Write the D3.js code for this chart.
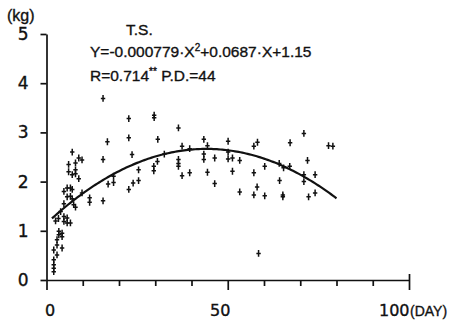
<!DOCTYPE html>
<html>
<head>
<meta charset="utf-8">
<script src="https://cdn.jsdelivr.net/npm/d3@7"></script>
<style>
  body { margin: 0; background: #fff; }
  svg text { font-family: "Liberation Sans", Arial, sans-serif; fill: #111; stroke: #111; stroke-width: 0.35; }
  .axis path, .axis line { stroke: #111; stroke-width: 1.7; }
</style>
</head>
<body>
<div id="chart"></div>
<script>
// observed weights (day, kg)
const days = [2, 2, 2, 2, 2, 2.9, 2.9, 2.9, 4.3, 3.4, 3.4, 4.3, 4.3, 2.5, 3.3, 3.9, 4.8, 4.8, 5.7, 6.6, 5.7,
  4.8, 5.7, 6.6, 7.1, 7.5, 8, 4.8, 5.7, 6.6, 7.1, 6.1, 6.1, 7.1, 8, 8, 8.9, 8, 8.9, 9.8, 7.1, 9.8, 11.9, 11.9,
  15.6, 22.7, 29.7, 29.7, 36.4, 16.8, 22.7, 30.7, 23.6, 15.6, 37.4, 39.5, 32.5, 36.4, 36.4, 36.4, 30.6, 29.6, 29.6,
  25.4, 37.4, 39.5, 25.4, 23.9, 22.7, 18.5, 18.5, 17, 15.6,
  43.4, 44.4, 50.1, 57.2, 58.2, 67.2, 71, 77.8, 79, 43.4, 43.4, 46.4, 50.1, 50.1, 51.3, 53.3, 44.4, 46.4, 51.3,
  53.3, 57.2, 58.1, 57.2, 60.2, 60.2, 64.2, 65.4, 67.1, 64.3, 65.2, 65.2, 71, 71, 72, 74.1, 72.3, 74.1, 58.5];
const weights = [0.17, 0.24, 0.31, 0.41, 0.61, 0.51, 0.71, 0.82, 0.65, 0.92, 0.99, 0.88, 0.95, 1.2, 1.25, 1.39, 1.29, 1.19, 1.16, 1.16, 1.26,
  1.55, 1.69, 1.7, 1.65, 1.53, 1.48, 1.8, 1.87, 1.87, 1.84, 2.35, 2.2, 2.14, 2.24, 2.16, 2.06, 2.38, 2.48, 2.44, 2.6, 1.77, 1.67, 1.58,
  3.69, 3.28, 3.35, 3.3, 3.09, 2.81, 2.89, 2.86, 2.55, 2.45, 2.72, 2.67, 2.56, 2.45, 2.37, 2.31, 2.41, 2.31, 2.22,
  2.24, 2.12, 2.18, 2.02, 1.97, 1.84, 2.11, 1.98, 1.95, 1.61,
  2.86, 2.73, 2.82, 2.72, 2.8, 2.79, 2.98, 2.73, 2.72, 2.56, 2.45, 2.48, 2.6, 2.46, 2.48, 2.43, 2.19, 1.96, 2.21,
  1.79, 2.18, 1.89, 1.73, 2.31, 1.71, 2.37, 2.28, 2.31, 2.02, 1.73, 1.69, 2.14, 2.0, 2.43, 2.14, 1.69, 1.77, 0.54];

// regression Y = a*X^2 + b*X + c, drawn over the observed span
const coef = [-0.000779, 0.0687, 1.15];
const fitSpan = [1.5, 80];

const xTicks = [0, 10, 20, 30, 40, 50, 60, 70, 80, 90, 100];
const xLabels = { 0: '0', 50: '50', 100: '100' };
const yTicks = [0, 1, 2, 3, 4, 5];

const points = days.map((d, i) => ({ day: d, kg: weights[i] }));

const svg = d3.select('#chart')
  .append('svg')
  .attr('width', 458)
  .attr('height', 322);

const x = d3.scaleLinear().domain([0, 100]).range([46.5, 409]);
const y = d3.scaleLinear().domain([0, 5]).range([280, 34]);

// y axis
const yAxis = svg.append('g')
  .attr('class', 'axis')
  .attr('transform', `translate(${x(0)},0)`)
  .call(d3.axisLeft(y).tickValues(yTicks).tickFormat(d3.format('d'))
    .tickSize(6).tickPadding(12).tickSizeOuter(0));
yAxis.selectAll('text')
  .style('font-size', '17px')
  .style('font-family', '"DejaVu Sans", sans-serif');

// x axis
const xAxis = svg.append('g')
  .attr('class', 'axis')
  .attr('transform', `translate(0,${y(0)})`)
  .call(d3.axisBottom(x).tickValues(xTicks).tickSizeOuter(0)
    .tickFormat(d => xLabels[d] || ''));
xAxis.selectAll('.tick line')
  .attr('y1', d => d === 100 ? -6 : 0)
  .attr('y2', d => (d % 50 === 0) ? 10 : 6);
xAxis.selectAll('text')
  .style('font-size', '16px')
  .style('font-family', '"DejaVu Sans", sans-serif')
  .attr('y', 25)
  .attr('dy', '0.71em')
  .attr('text-anchor', d => d === 100 ? 'end' : 'middle')
  .attr('dx', d => d === 0 ? 3 : d === 50 ? -8 : 0);

svg.append('text')
  .attr('x', x(100) + 1)
  .attr('y', y(0) + 36)
  .style('font-size', '14px')
  .text('(DAY)');

svg.append('text')
  .attr('x', 7)
  .attr('y', 21)
  .style('font-size', '16px')
  .text('(kg)');

// annotation
const note = svg.append('g').style('font-size', '15.5px');
note.append('text').attr('x', 126).attr('y', 35).text('T.S.');
const eq = note.append('text').attr('x', 90).attr('y', 57);
eq.append('tspan').text('Y=-0.000779·X');
eq.append('tspan').attr('dy', -6).style('font-size', '10px').text('2');
eq.append('tspan').attr('dy', 6).text('+0.0687·X+1.15');
const rr = note.append('text').attr('x', 90).attr('y', 81);
rr.append('tspan').text('R=0.714');
rr.append('tspan').attr('dy', -6).style('font-size', '10px').text('**');
rr.append('tspan').attr('dy', 6).text(' P.D.=44');

// fitted curve
const fit = d3.range(fitSpan[0], fitSpan[1] + 0.01, 0.5)
  .map(d => ({ day: d, kg: coef[0] * d * d + coef[1] * d + coef[2] }));

svg.append('path')
  .datum(fit)
  .attr('fill', 'none')
  .attr('stroke', '#111')
  .attr('stroke-width', 2.2)
  .attr('d', d3.line().x(d => x(d.day)).y(d => y(d.kg)));

// observations as small crosses
svg.selectAll('.obs')
  .data(points)
  .enter()
  .append('path')
  .attr('class', 'obs')
  .attr('transform', d => `translate(${x(d.day)},${y(d.kg)})`)
  .attr('d', 'M-2.2,0H2.2M0,-3.4V3.4')
  .attr('stroke', '#111')
  .attr('stroke-width', 1.5)
  .attr('fill', 'none');
</script>
</body>
</html>
